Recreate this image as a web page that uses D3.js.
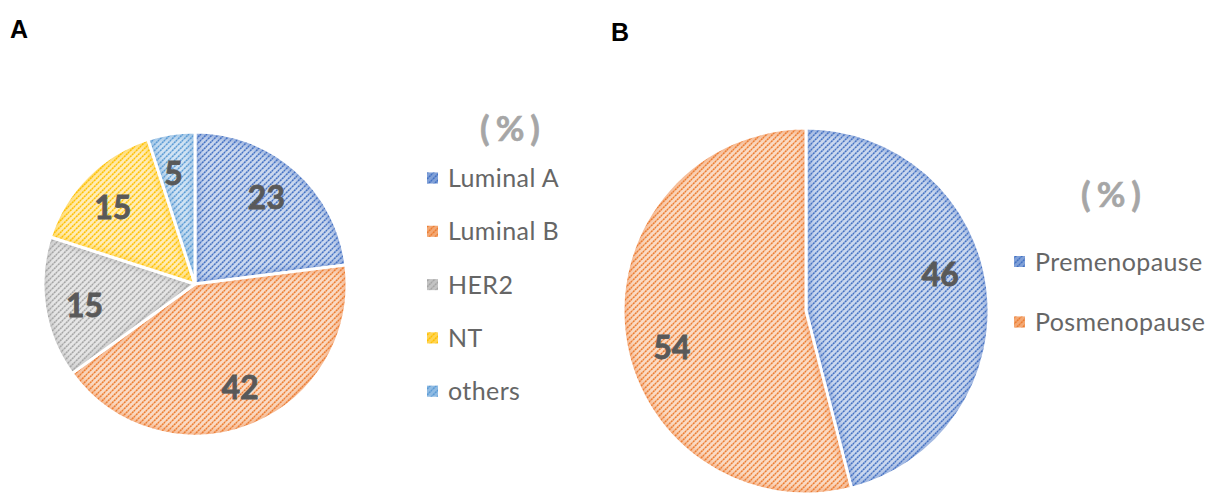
<!DOCTYPE html>
<html><head><meta charset="utf-8">
<script src="https://cdn.jsdelivr.net/npm/d3@7/dist/d3.min.js"></script>
<style>body{margin:0;background:#fff;} svg{display:block;}</style>
</head><body>
<svg id="c" width="1220" height="494"></svg>
<script>
const subtypeCategories = ["Luminal A", "Luminal B", "HER2", "NT", "others"];
const subtypeValues = [23, 42, 15, 15, 5];
const subtypeColors = ["#4472C4", "#ED7D31", "#A5A5A5", "#FFC000", "#5B9BD5"];
const menoCategories = ["Premenopause", "Posmenopause"];
const menoValues = [46, 54];
const menoColors = ["#4472C4", "#ED7D31"];
const legendTitle = "(%)";

const svg = d3.select("#c");
const defs = svg.append("defs");
const font = "Lato, 'Open Sans', sans-serif";

function makePattern(id, color) {
  const p = defs.append("pattern").attr("id", id)
    .attr("patternUnits", "userSpaceOnUse").attr("width", 6).attr("height", 6);
  const bg = d3.interpolateRgb("#ffffff", color)(0.28);
  p.append("rect").attr("width", 6).attr("height", 6).attr("fill", bg);
  p.append("path").attr("d", "M-1,7 L7,-1 M-4,4 L4,-4 M2,10 L10,2")
    .attr("stroke", color).attr("stroke-width", 1.6).attr("stroke-dasharray", "2.2,0.6");
  return "url(#" + id + ")";
}
const blur = defs.append("filter").attr("id", "soft").attr("x", "-10%").attr("y", "-10%").attr("width", "120%").attr("height", "120%");
blur.append("feGaussianBlur").attr("stdDeviation", 3);

function drawPie(opts) {
  const { cx, cy, r, values, colors, prefix, labelFrac, labelShift } = opts;
  const pie = d3.pie().sort(null).value(d => d)(values);
  const arc = d3.arc().innerRadius(0).outerRadius(r);
  const labelArc = d3.arc().innerRadius(r * labelFrac).outerRadius(r * labelFrac);
  const g = svg.append("g").attr("transform", `translate(${cx},${cy})`);
  pie.forEach((p, i) => {
    const fill = makePattern(prefix + i, colors[i]);
    const cid = prefix + "clip" + i;
    defs.append("clipPath").attr("id", cid).append("path").attr("d", arc(p));
    g.append("path").attr("d", arc(p)).attr("fill", fill);
    g.append("g").attr("clip-path", `url(#${cid})`)
      .append("path").attr("d", arc(p)).attr("fill", "none")
      .attr("stroke", colors[i]).attr("stroke-opacity", 0.45).attr("stroke-width", 8)
      .attr("filter", "url(#soft)");
    g.append("path").attr("d", arc(p)).attr("fill", "none")
      .attr("stroke", "#fff").attr("stroke-width", 3).attr("stroke-linejoin", "round");
  });
  pie.forEach((p, i) => {
    const sh = (labelShift || 0) * Math.PI / 180;
    const [x, y] = labelArc.centroid({ startAngle: p.startAngle + sh, endAngle: p.endAngle + sh });
    g.append("text").attr("x", x).attr("y", y).attr("dy", "0.36em")
      .attr("text-anchor", "middle").attr("font-family", font).attr("font-weight", 700)
      .attr("font-size", 32).attr("fill", "#595959")
      .attr("stroke", "#595959").attr("stroke-width", 0.8).text(values[i]);
  });
}

function drawLegend(opts) {
  const { x, titleX, titleY, y0, step, cats, colors, prefix } = opts;
  svg.append("text").attr("x", titleX + 3).attr("y", titleY).attr("text-anchor", "middle")
    .attr("font-family", font).attr("font-weight", 700).attr("font-size", 35)
    .attr("letter-spacing", 6).attr("fill", "#A6A6A6")
    .attr("stroke", "#A6A6A6").attr("stroke-width", 0.6).text(legendTitle);
  cats.forEach((c, i) => {
    const y = y0 + i * step;
    svg.append("rect").attr("x", x).attr("y", y - 5.5).attr("width", 11).attr("height", 11)
      .attr("fill", makePattern(prefix + "leg" + i, colors[i]));
    svg.append("rect").attr("x", x).attr("y", y - 5.5).attr("width", 11).attr("height", 11)
      .attr("fill", colors[i]).attr("opacity", 0.55);
    svg.append("text").attr("x", x + 21).attr("y", y).attr("dy", "0.36em")
      .attr("font-family", font).attr("font-size", 25).attr("letter-spacing", 0.4)
      .attr("fill", "#666666").text(c);
  });
}

drawPie({ cx: 195, cy: 284, r: 152, values: subtypeValues, colors: subtypeColors, prefix: "a", labelFrac: 0.74, labelShift: -2 });
drawPie({ cx: 806, cy: 311, r: 183, values: menoValues, colors: menoColors, prefix: "b", labelFrac: 0.76, labelShift: -8 });

drawLegend({ x: 427, titleX: 510, titleY: 141, y0: 178, step: 53.3, cats: subtypeCategories, colors: subtypeColors, prefix: "la" });
drawLegend({ x: 1014, titleX: 1111, titleY: 207, y0: 261.5, step: 60.5, cats: menoCategories, colors: menoColors, prefix: "lb" });

svg.append("text").attr("x", 10).attr("y", 38).attr("font-family", "'Liberation Sans', Arial, sans-serif")
  .attr("font-weight", 700).attr("font-size", 25).attr("fill", "#000").text("A");
svg.append("text").attr("x", 611).attr("y", 41).attr("font-family", "'Liberation Sans', Arial, sans-serif")
  .attr("font-weight", 700).attr("font-size", 25).attr("fill", "#000").text("B");
</script>
</body></html>
